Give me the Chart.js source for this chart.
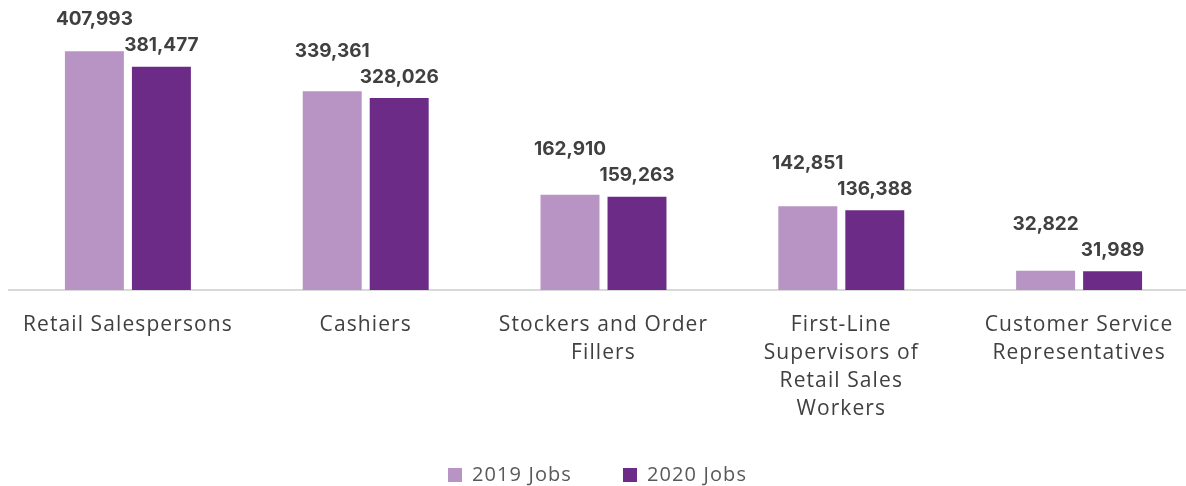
<!DOCTYPE html>
<html>
<head>
<meta charset="utf-8">
<script src="https://cdn.jsdelivr.net/npm/chart.js@4/dist/chart.umd.min.js"></script>
<style>
    html, body { margin: 0; padding: 0; background: #fff; overflow: hidden; }
    #wrap { width: 1200px; height: 486px; position: relative; }
</style>
</head>
<body>
<div id="wrap"><canvas id="jobsChart"></canvas></div>
<script>
// Occupations and job counts
var occupations = [
    'Retail Salespersons',
    'Cashiers',
    ['Stockers and Order', 'Fillers'],
    ['First-Line', 'Supervisors of', 'Retail Sales', 'Workers'],
    ['Customer Service', 'Representatives']
];
var jobs2019 = [407993, 339361, 162910, 142851, 32822];
var jobs2020 = [381477, 328026, 159263, 136388, 31989];
var seriesNames = ['2019 Jobs', '2020 Jobs'];

// Slightly wider tracking for axis and legend text (set before layout so widths are measured with it)
var textTracking = {
    id: 'textTracking',
    beforeUpdate: function (chart) {
        chart.ctx.letterSpacing = '1.1px';
    },
    beforeDraw: function (chart) {
        chart.ctx.letterSpacing = '1.1px';
    }
};

// Pull the legend row up a little and a touch to the left
var legendNudge = {
    id: 'legendNudge',
    afterLayout: function (chart) {
        var lg = chart.legend;
        lg.top -= 12;
        lg.left -= 6;
        lg.right -= 6;
    }
};

// Value labels: the 2020 label sits just above its bar, the 2019 label one row above that
var valueLabels = {
    id: 'valueLabels',
    afterDatasetsDraw: function (chart) {
        var ctx = chart.ctx;
        var meta0 = chart.getDatasetMeta(0);
        var meta1 = chart.getDatasetMeta(1);
        ctx.save();
        ctx.letterSpacing = '0px';
        ctx.font = 'bold 19px Inter, "Open Sans", sans-serif';
        ctx.fillStyle = '#404040';
        ctx.textAlign = 'center';
        ctx.textBaseline = 'middle';
        meta1.data.forEach(function (bar, i) {
            var top = bar.y;
            ctx.fillText(jobs2020[i].toLocaleString('en-US'), bar.x, top - 21);
            ctx.fillText(jobs2019[i].toLocaleString('en-US'), meta0.data[i].x, top - 47);
        });
        ctx.restore();
    }
};

var jobsCtx = document.getElementById('jobsChart').getContext('2d');
new Chart(jobsCtx, {
    type: 'bar',
    data: {
        labels: occupations,
        datasets: [{
            label: seriesNames[0],
            data: jobs2019,
            backgroundColor: '#b794c3'
        }, {
            label: seriesNames[1],
            data: jobs2020,
            backgroundColor: '#6b2b87'
        }]
    },
    options: {
        responsive: true,
        maintainAspectRatio: false,
        animation: false,
        categoryPercentage: 0.5635,
        barPercentage: 0.88,
        layout: {
            padding: { top: 9, left: 9, right: 2, bottom: 0 }
        },
        plugins: {
            legend: {
                position: 'bottom',
                maxHeight: 60,
                labels: {
                    boxWidth: 14,
                    boxHeight: 14,
                    padding: 51,
                    color: '#595959',
                    font: { family: '"Open Sans"', size: 20 }
                }
            },
            tooltip: { enabled: false }
        },
        scales: {
            x: {
                grid: { display: false, drawTicks: false },
                border: { display: true, color: '#d9d9d9', width: 2 },
                ticks: {
                    color: '#404040',
                    font: { family: '"Open Sans"', size: 21, lineHeight: 1.333 },
                    padding: 21,
                    maxRotation: 0,
                    autoSkip: false
                },
                afterFit: function (scale) {
                    scale.height = 136;
                }
            },
            y: {
                display: false,
                min: 0,
                max: 480000
            }
        }
    },
    plugins: [textTracking, legendNudge, valueLabels]
});
</script>
</body>
</html>
